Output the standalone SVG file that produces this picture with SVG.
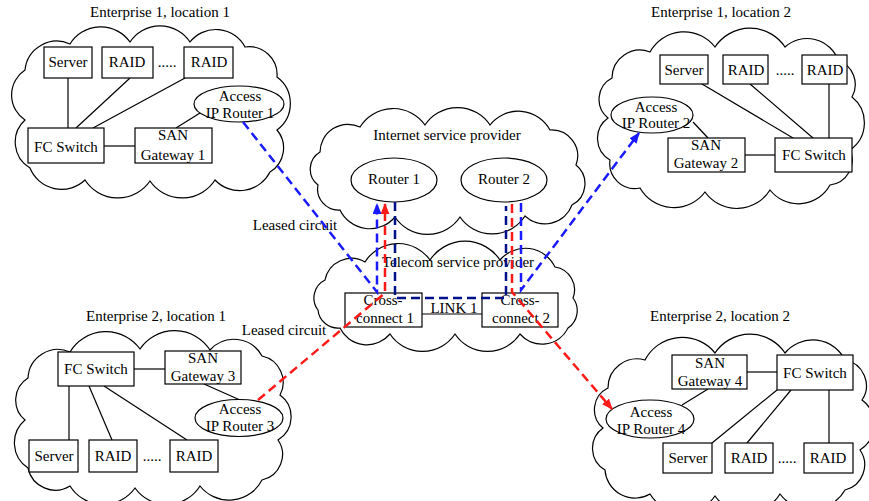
<svg xmlns="http://www.w3.org/2000/svg" width="869" height="501" viewBox="0 0 869 501">
<defs>
<style>
text{font-family:"Liberation Serif","Times New Roman",serif;font-size:15px;fill:#000;text-anchor:middle}
.cloud{fill:#fff;stroke:#000;stroke-width:1.2}
.box{fill:#fff;stroke:#000;stroke-width:1.2}
.ln{stroke:#000;stroke-width:1.2;fill:none}
.blue{stroke:#1a1aff;stroke-width:2.5;fill:none;stroke-dasharray:9 5}
.navy{stroke:#00108a;stroke-width:2.5;fill:none;stroke-dasharray:9 5}
.red{stroke:#ff1a1a;stroke-width:2.5;fill:none;stroke-dasharray:9 5}
</style>
<marker id="ab" markerUnits="userSpaceOnUse" markerWidth="11" markerHeight="9" refX="10" refY="4.5" orient="auto"><path d="M0,0 L11,4.5 L0,9 z" fill="#1a1aff"/></marker>
<marker id="ar" markerUnits="userSpaceOnUse" markerWidth="11" markerHeight="9" refX="10" refY="4.5" orient="auto"><path d="M0,0 L11,4.5 L0,9 z" fill="#ff1a1a"/></marker>
</defs>
<rect width="869" height="501" fill="#fff"/>

<g id="e1l1">
<text x="160" y="17">Enterprise 1, location 1</text>
<path class="cloud" d="M25,70 A32,32 0 0 1 70,44 A36,36 0 0 1 130,42 A36,36 0 0 1 190,42 A33,33 0 0 1 245,47 A28,28 0 0 1 277,77 A33,33 0 0 1 277,130 A28,28 0 0 1 270,172 A34,34 0 0 1 215,180 A39,39 0 0 1 150,181 A39,39 0 0 1 85,180 A34,34 0 0 1 30,168 A30,30 0 0 1 25,120 A30,30 0 0 1 25,70 Z"/>
<g class="ln"><line x1="68" y1="78" x2="68" y2="128"/><line x1="130" y1="78" x2="76" y2="128"/><line x1="185" y1="78" x2="93" y2="128"/><line x1="104" y1="146" x2="135" y2="146"/><line x1="176" y1="128" x2="200" y2="113"/></g>
<g id="e1l1-server"><rect class="box" x="44" y="47" width="48" height="31"/><text x="68" y="67">Server</text></g>
<g id="e1l1-raid1"><rect class="box" x="102" y="47" width="51" height="31"/><text x="127" y="67">RAID</text></g>
<text x="167" y="67">.....</text>
<g id="e1l1-raid2"><rect class="box" x="184" y="47" width="49" height="31"/><text x="209" y="67">RAID</text></g>
<g id="e1l1-fc"><rect class="box" x="28" y="128" width="76" height="35"/><text x="66" y="152">FC Switch</text></g>
<g id="e1l1-san"><rect class="box" x="135" y="128" width="77" height="35"/><text x="173" y="140">SAN</text><text x="173" y="160">Gateway 1</text></g>
<g id="e1l1-router"><ellipse class="box" cx="239" cy="104" rx="45" ry="18"/><text x="240" y="101">Access</text><text x="240" y="118">IP Router 1</text></g>
</g>

<g id="e1l2">
<text x="721" y="17">Enterprise 1, location 2</text>
<path class="cloud" d="M612,78 A28,28 0 0 1 650,52 A39,39 0 0 1 715,47 A42,42 0 0 1 785,47 A33,33 0 0 1 838,60 A26,26 0 0 1 852,97 A33,33 0 0 1 850,150 A25,25 0 0 1 830,185 A36,36 0 0 1 770,190 A39,39 0 0 1 705,192 A39,39 0 0 1 640,188 A25,25 0 0 1 610,160 A25,25 0 0 1 608,118 A24,24 0 0 1 612,78 Z"/>
<g class="ln"><line x1="693" y1="122" x2="708" y2="138"/><line x1="745" y1="155" x2="775" y2="155"/><line x1="702" y1="84" x2="793" y2="138"/><line x1="750" y1="84" x2="813" y2="138"/><line x1="829" y1="84" x2="829" y2="138"/></g>
<g id="e1l2-server"><rect class="box" x="660" y="55" width="48" height="29"/><text x="684" y="75">Server</text></g>
<g id="e1l2-raid1"><rect class="box" x="723" y="55" width="45" height="29"/><text x="746" y="75">RAID</text></g>
<text x="785" y="75">.....</text>
<g id="e1l2-raid2"><rect class="box" x="802" y="55" width="45" height="29"/><text x="825" y="75">RAID</text></g>
<g id="e1l2-router"><ellipse class="box" cx="652" cy="115" rx="41" ry="18"/><text x="656" y="112">Access</text><text x="656" y="128">IP Router 2</text></g>
<g id="e1l2-san"><rect class="box" x="668" y="138" width="77" height="34"/><text x="706" y="150">SAN</text><text x="706" y="168">Gateway 2</text></g>
<g id="e1l2-fc"><rect class="box" x="775" y="138" width="77" height="34"/><text x="814" y="160">FC Switch</text></g>
</g>

<g id="isp">
<path class="cloud" d="M320,152 A28,28 0 0 1 360,127 A39,39 0 0 1 425,125 A39,39 0 0 1 490,125 A36,36 0 0 1 550,130 A26,26 0 0 1 576,165 A24,24 0 0 1 572,205 A29,29 0 0 1 525,216 A39,39 0 0 1 460,217 A39,39 0 0 1 395,217 A33,33 0 0 1 340,210 A21,21 0 0 1 318,185 A20,20 0 0 1 320,152 Z"/>
<text x="447" y="140">Internet service provider</text>
<g id="router1"><ellipse class="box" cx="394" cy="180" rx="43" ry="22"/><text x="394" y="184">Router 1</text></g>
<g id="router2"><ellipse class="box" cx="504" cy="180" rx="43" ry="22"/><text x="504" y="184">Router 2</text></g>
</g>

<g id="telecom">
<path class="cloud" d="M325,280 A27,27 0 0 1 365,262 A39,39 0 0 1 430,260 A42,42 0 0 1 500,260 A33,33 0 0 1 555,267 A23,23 0 0 1 573,298 A21,21 0 0 1 568,328 A29,29 0 0 1 520,334 A39,39 0 0 1 455,334 A39,39 0 0 1 390,334 A30,30 0 0 1 340,328 A20,20 0 0 1 318,310 A20,20 0 0 1 325,280 Z"/>
<text x="458" y="267">Telecom service provider</text>
<line class="ln" x1="422" y1="314" x2="482" y2="314"/>
<text x="454" y="313">LINK 1</text>
<g id="cc1"><rect class="box" x="345" y="293" width="77" height="34" fill-opacity="0"/><text x="383" y="305">Cross-</text><text x="385" y="323">connect 1</text></g>
<g id="cc2"><rect class="box" x="482" y="293" width="76" height="34" fill-opacity="0"/><text x="520" y="305">Cross-</text><text x="521" y="323">connect 2</text></g>
</g>

<g id="e2l1">
<text x="156" y="321">Enterprise 2, location 1</text>
<path class="cloud" d="M28,378 A30,30 0 0 1 70,352 A42,42 0 0 1 140,349 A42,42 0 0 1 210,350 A32,32 0 0 1 262,356 A27,27 0 0 1 280,395 A27,27 0 0 1 278,440 A26,26 0 0 1 262,480 A37,37 0 0 1 200,486 A39,39 0 0 1 135,488 A39,39 0 0 1 70,486 A28,28 0 0 1 28,468 A30,30 0 0 1 25,420 A26,26 0 0 1 28,378 Z"/>
<g class="ln"><line x1="134" y1="369" x2="165" y2="369"/><line x1="69" y1="386" x2="69" y2="440"/><line x1="89" y1="386" x2="112" y2="440"/><line x1="104" y1="386" x2="187" y2="440"/><line x1="204" y1="384" x2="240" y2="400"/></g>
<g id="e2l1-fc"><rect class="box" x="58" y="352" width="76" height="34"/><text x="96" y="374">FC Switch</text></g>
<g id="e2l1-san"><rect class="box" x="165" y="351" width="76" height="33"/><text x="203" y="363">SAN</text><text x="203" y="381">Gateway 3</text></g>
<g id="e2l1-router"><ellipse class="box" cx="239" cy="418" rx="44" ry="18.5"/><text x="240" y="414">Access</text><text x="240" y="431">IP Router 3</text></g>
<g id="e2l1-server"><rect class="box" x="29" y="440" width="49" height="32"/><text x="54" y="461">Server</text></g>
<g id="e2l1-raid1"><rect class="box" x="89" y="440" width="48" height="32"/><text x="113" y="461">RAID</text></g>
<text x="152" y="461">.....</text>
<g id="e2l1-raid2"><rect class="box" x="170" y="440" width="48" height="32"/><text x="194" y="461">RAID</text></g>
</g>

<g id="e2l2">
<text x="720" y="321">Enterprise 2, location 2</text>
<path class="cloud" d="M608,388 A29,29 0 0 1 645,360 A42,42 0 0 1 715,353 A42,42 0 0 1 785,353 A36,36 0 0 1 845,360 A26,26 0 0 1 862,400 A30,30 0 0 1 860,450 A26,26 0 0 1 845,490 A39,39 0 0 1 780,494 A39,39 0 0 1 715,496 A39,39 0 0 1 650,494 A30,30 0 0 1 605,470 A25,25 0 0 1 603,428 A24,24 0 0 1 608,388 Z"/>
<g class="ln"><line x1="747" y1="372" x2="777" y2="372"/><line x1="708" y1="389" x2="682" y2="405"/><line x1="777" y1="390" x2="712" y2="443"/><line x1="791" y1="390" x2="747" y2="443"/><line x1="829" y1="390" x2="829" y2="443"/></g>
<g id="e2l2-san"><rect class="box" x="672" y="355" width="75" height="34"/><text x="710" y="368">SAN</text><text x="710" y="386">Gateway 4</text></g>
<g id="e2l2-fc"><rect class="box" x="777" y="355" width="76" height="35"/><text x="815" y="378">FC Switch</text></g>
<g id="e2l2-router"><ellipse class="box" cx="650" cy="419" rx="44" ry="19"/><text x="651" y="417">Access</text><text x="651" y="434">IP Router 4</text></g>
<g id="e2l2-server"><rect class="box" x="663" y="443" width="49" height="30"/><text x="688" y="463">Server</text></g>
<g id="e2l2-raid1"><rect class="box" x="725" y="443" width="48" height="30"/><text x="749" y="463">RAID</text></g>
<text x="787" y="463">.....</text>
<g id="e2l2-raid2"><rect class="box" x="804" y="443" width="49" height="30"/><text x="828" y="463">RAID</text></g>
</g>

<text x="295" y="230">Leased circuit</text>
<text x="284" y="335">Leased circuit</text>

<g id="connectors">
<polyline class="blue" points="243,122 377,292 377,204" marker-end="url(#ab)"/>
<polyline class="red" points="258,400 385,293 385,204" marker-end="url(#ar)"/>
<polyline class="navy" points="395,202 395,298 506,298 506,206"/>
<polyline class="red" points="512,204 512,292 612,409" marker-end="url(#ar)"/>
<polyline class="blue" points="521,203 521,290 639,133" marker-end="url(#ab)"/>
</g>
</svg>
